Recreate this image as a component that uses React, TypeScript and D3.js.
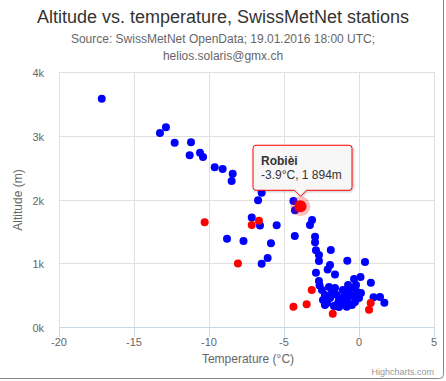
import React from "react";
import * as d3 from "d3";

const xTicks = [-20, -15, -10, -5, 0, 5];
const yTicks = [0, 1000, 2000, 3000, 4000];
const yTickLabels = ["0k", "1k", "2k", "3k", "4k"];

// [temperature °C, altitude m]
const blueStations: [number, number][] = [
  [-17.15, 3577], [-12.87, 3130], [-13.27, 3041], [-12.29, 2889], [-11.2, 2895],
  [-11.29, 2692], [-10.6, 2732], [-10.4, 2665], [-9.62, 2504], [-9.09, 2477],
  [-8.42, 2404], [-8.49, 2290], [-6.49, 2106], [-6.73, 1987], [-7.15, 1718],
  [-6.6, 1593], [-5.49, 1596], [-8.8, 1387], [-7.7, 1351], [-5.87, 1315],
  [-6.49, 995], [-6.09, 1085], [-4.37, 1977], [-4.27, 1831], [-4.28, 1429],
  [-3.13, 1679], [-3.27, 1601], [-2.93, 1418], [-2.93, 1330], [-2.87, 1205],
  [-2.67, 1131], [-2.67, 1038], [-1.88, 1210], [-0.78, 1042], [0.4, 1022],
  [-2.87, 854], [-1.93, 975], [-2.09, 905], [-1.6, 826], [-2.67, 725],
  [-2.63, 654], [-0.33, 756], [0.1, 787], [0.79, 698], [0.97, 469],
  [1.4, 474], [1.69, 385], [-1.6, 333], [-0.82, 322],
  [-2.47, 584], [-2.27, 505], [-2.4, 427], [-2.13, 380], [-1.93, 458],
  [-1.8, 552], [-1.6, 615], [-1.47, 505], [-1.33, 427], [-1.2, 365],
  [-1.07, 584], [-0.93, 490], [-0.8, 427], [-0.67, 536], [-0.53, 615],
  [-0.4, 490], [-0.27, 396], [-0.13, 552], [0.0, 458], [0.13, 536],
  [-1.67, 333], [-1.33, 318], [-2.0, 630], [-0.73, 662], [-0.2, 662],
  [-1.13, 458], [-1.4, 380], [-0.47, 349], [-2.27, 349], [-0.87, 552],
];

const redStations: [number, number][] = [
  [-10.29, 1643], [-7.15, 1601], [-6.67, 1667], [-8.07, 998], [-3.9, 1894],
  [-3.15, 584], [-4.37, 322], [-3.49, 361], [-1.75, 213], [0.78, 380], [0.67, 275],
];

const hovered = { name: "Robièi", temp: -3.9, alt: 1894 };

const W = 446;
const H = 381;
const FONT = '"Liberation Sans", Arial, Helvetica, sans-serif';

export default function App() {
  const x = d3.scaleLinear().domain([-20, 5]).range([59, 434]);
  const y = d3.scaleLinear().domain([0, 4000]).range([327.3, 71.7]);
  const fmt = d3.format(",");
  const altText = fmt(hovered.alt).replace(",", " ");

  const hx = x(hovered.temp);
  const hy = y(hovered.alt);
  const boxW = 99;
  const boxH = 45;
  const boxX = hx - 47.5;
  const boxY = hy - 61;
  const tipY = hy - 10;

  return (
    <svg width={W} height={H} style={{ position: "absolute", left: 0, top: 0, fontFamily: FONT }}>
      <defs>
        <filter id="shadow" x="-20%" y="-20%" width="150%" height="150%">
          <feDropShadow dx="1" dy="1" stdDeviation="1.2" floodColor="#000" floodOpacity="0.25" />
        </filter>
      </defs>
      <rect x={0} y={0} width={W} height={H} fill="#fff" />
      <rect x={-10} y={-10} width={453.5} height={388.5} rx={4} fill="none" stroke="#888" strokeWidth={1} />

      <text x={223} y={23} textAnchor="middle" fontSize={18} fill="#333">
        Altitude vs. temperature, SwissMetNet stations
      </text>
      <text x={223} y={42.5} textAnchor="middle" fontSize={12} fill="#666">
        Source: SwissMetNet OpenData; 19.01.2016 18:00 UTC;
      </text>
      <text x={223} y={59.5} textAnchor="middle" fontSize={12} fill="#666">
        helios.solaris@gmx.ch
      </text>

      {/* grid */}
      {yTicks.map((t) => (
        <line key={"gy" + t} x1={59} x2={434} y1={Math.round(y(t)) + 0.5} y2={Math.round(y(t)) + 0.5} stroke="#e0e0e0" />
      ))}
      {xTicks.map((t) => (
        <line key={"gx" + t} x1={Math.round(x(t)) + 0.5} x2={Math.round(x(t)) + 0.5} y1={71.7} y2={327.3} stroke="#e0e0e0" />
      ))}
      {/* x axis line and ticks */}
      <line x1={59} x2={434} y1={327.5} y2={327.5} stroke="#ccd6eb" />
      {xTicks.map((t) => (
        <line key={"tx" + t} x1={Math.round(x(t)) + 0.5} x2={Math.round(x(t)) + 0.5} y1={327} y2={337} stroke="#ccd6eb" />
      ))}

      {/* y labels */}
      {yTicks.map((t, i) => (
        <text key={"ly" + t} x={44} y={y(t) + 5} textAnchor="end" fontSize={11} fill="#666">
          {yTickLabels[i]}
        </text>
      ))}
      {xTicks.map((t) => (
        <text key={"lx" + t} x={x(t)} y={346} textAnchor="middle" fontSize={11} fill="#666">
          {t}
        </text>
      ))}
      <text x={248} y={363} textAnchor="middle" fontSize={12} fill="#666">
        Temperature (°C)
      </text>
      <text transform={`translate(22,200) rotate(-90)`} textAnchor="middle" fontSize={12} fill="#666">
        Altitude (m)
      </text>

      {/* series */}
      {blueStations.map((d, i) => (
        <circle key={"b" + i} cx={x(d[0])} cy={y(d[1])} r={4} fill="#0000ff" />
      ))}
      {redStations.map((d, i) => (
        <circle key={"r" + i} cx={x(d[0])} cy={y(d[1])} r={4} fill="#ff0000" />
      ))}

      {/* hover */}
      <circle cx={hx} cy={hy} r={10} fill="#ff0000" opacity={0.25} />
      <circle cx={hx} cy={hy} r={6} fill="#ff0000" />

      <path
        filter="url(#shadow)"
        d={`M${boxX + 3},${boxY} H${boxX + boxW - 3} Q${boxX + boxW},${boxY} ${boxX + boxW},${boxY + 3} V${boxY + boxH - 3} Q${boxX + boxW},${boxY + boxH} ${boxX + boxW - 3},${boxY + boxH} H${hx + 6} L${hx},${tipY} L${hx - 6},${boxY + boxH} H${boxX + 3} Q${boxX},${boxY + boxH} ${boxX},${boxY + boxH - 3} V${boxY + 3} Q${boxX},${boxY} ${boxX + 3},${boxY} Z`}
        fill="rgba(249,249,249,0.92)"
        stroke="#ff0000"
        strokeWidth={1}
      />
      <text x={boxX + 8} y={boxY + 19.5} fontSize={12} fontWeight="bold" fill="#333">
        {hovered.name}
      </text>
      <text x={boxX + 8} y={boxY + 34} fontSize={12} fill="#333">
        {`${hovered.temp}°C, ${altText}m`}
      </text>

      <text x={434} y={375} textAnchor="end" fontSize={9} fill="#999">
        Highcharts.com
      </text>
    </svg>
  );
}
